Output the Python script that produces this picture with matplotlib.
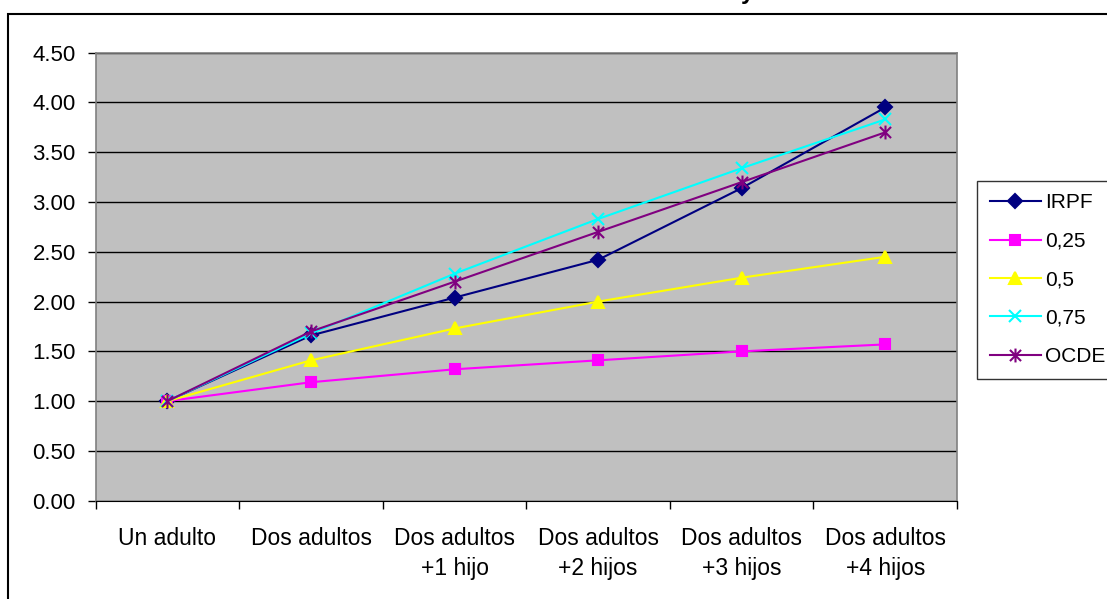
import matplotlib.pyplot as plt
from matplotlib.path import Path
from matplotlib.patches import Rectangle

plt.rcParams['font.family'] = ['Liberation Sans', 'DejaVu Sans']

# household types and equivalence scale values
categories = ['Un adulto', 'Dos adultos', 'Dos adultos\n+1 hijo', 'Dos adultos\n+2 hijos',
              'Dos adultos\n+3 hijos', 'Dos adultos\n+4 hijos']
irpf = [1.00, 1.66, 2.04, 2.42, 3.14, 3.95]
e025 = [1.00, 1.19, 1.32, 1.41, 1.50, 1.57]
e050 = [1.00, 1.41, 1.73, 2.00, 2.24, 2.45]
e075 = [1.00, 1.68, 2.28, 2.83, 3.34, 3.83]
ocde = [1.00, 1.70, 2.20, 2.70, 3.20, 3.70]
y_ticks = [0.0, 0.5, 1.0, 1.5, 2.0, 2.5, 3.0, 3.5, 4.0, 4.5]

W, H = 1107, 599
fig = plt.figure(figsize=(W / 100, H / 100), dpi=100)
ax = fig.add_axes([95.7 / W, 1 - 500.7 / H, (957 - 95.7) / W, (500.7 - 52.7) / H])
ax.set_facecolor('#C0C0C0')

# Excel-style asterisk marker: an x with a vertical bar
star = Path([(-1, -1), (1, 1), (-1, 1), (1, -1), (0, -1.25), (0, 1.25)],
            [Path.MOVETO, Path.LINETO, Path.MOVETO, Path.LINETO, Path.MOVETO, Path.LINETO])

xs = [i + 0.5 for i in range(len(categories))]
series = [
    (irpf, 'IRPF', '#000080', 'D', 7.5),
    (e025, '0,25', '#FF00FF', 's', 7.5),
    (e050, '0,5', '#FFFF00', '^', 9),
    (e075, '0,75', '#00FFFF', 'x', 9),
    (ocde, 'OCDE', '#800080', star, 10),
]
for vals, name, col, mk, ms in series:
    ax.plot(xs, vals, color=col, lw=1.5, marker=mk, ms=ms, mfc=col, mec=col,
            mew=1.5, label=name, clip_on=False, zorder=3)

ax.set_xlim(0, 6)
ax.set_ylim(0, 4.5)
ax.set_yticks(y_ticks)
ax.set_yticklabels(['%.2f' % v for v in y_ticks])
ax.yaxis.grid(True, color='black', lw=1)
ax.set_axisbelow(True)

ax.set_xticks(range(7))
ax.set_xticklabels([])
ax.set_xticks(xs, minor=True)
ax.set_xticklabels(categories, minor=True, fontsize=16.5, linespacing=1.4)
ax.tick_params(axis='x', which='minor', length=0, pad=19)
ax.tick_params(axis='x', which='major', length=5.5, direction='out', width=1)
ax.tick_params(axis='y', length=6, direction='out', width=1, labelsize=16, pad=8.4)

for side in ['left', 'right', 'top']:
    ax.spines[side].set_color('#808080')
    ax.spines[side].set_linewidth(1.2)
ax.spines['bottom'].set_color('black')

leg = ax.legend(loc='upper left', bbox_to_anchor=(977 / W, 1 - 181 / H),
                bbox_transform=fig.transFigure, fontsize=15, frameon=True,
                fancybox=False, edgecolor='black', handlelength=2.45,
                handletextpad=0.2, labelspacing=0.93, borderaxespad=0,
                borderpad=0.6)
leg.get_frame().set_linewidth(1.0)

# outer chart frame, partly outside the image
fig.add_artist(Rectangle((8 / W, -0.1), 1.2, 1 - 14 / H + 0.1, transform=fig.transFigure,
                         fill=False, edgecolor='black', lw=1.5))
fig.text(747 / W, 1 + 1 / H, 'y', fontsize=17, fontweight='bold', ha='center', va='baseline')

fig.savefig('out.png', dpi=100)
